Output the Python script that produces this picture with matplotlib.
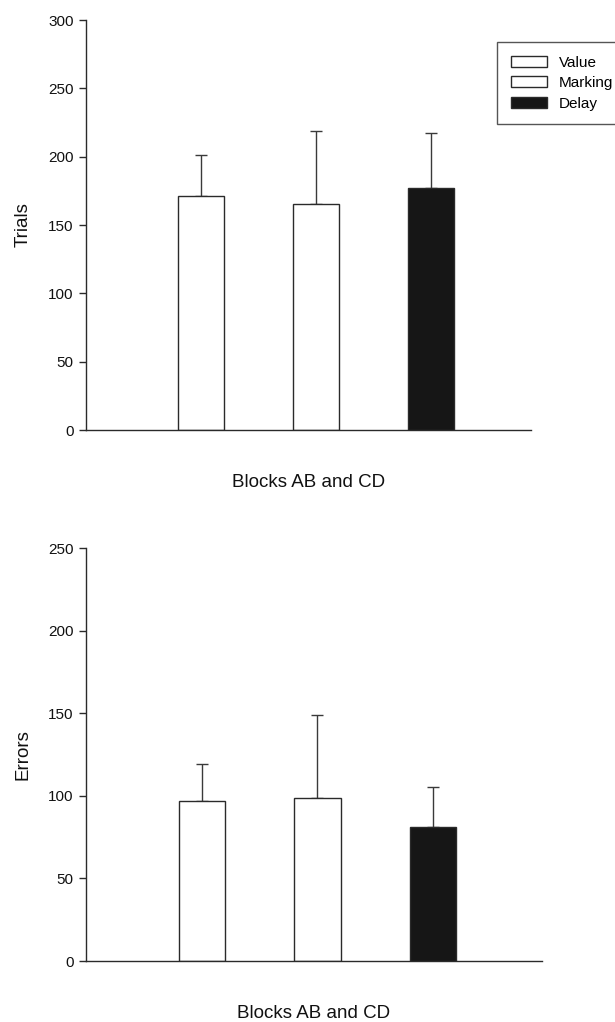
import matplotlib
matplotlib.use("Agg")
import matplotlib.pyplot as plt
from matplotlib.patches import Patch

plt.rcParams['font.family'] = ['Liberation Sans', 'DejaVu Sans']

groups = ["Value", "Marking", "Delay"]
colors = ["white", "white", "#161616"]
xlabel = "Blocks AB and CD"

trials_mean = [171, 165.5, 177]
trials_err = [30, 53, 40]
trials_ticks = [0, 50, 100, 150, 200, 250, 300]

errors_mean = [96.7, 98.7, 81]
errors_err = [22.5, 50, 24.5]
errors_ticks = [0, 50, 100, 150, 200, 250]

W, H = 615, 1022
fig = plt.figure(figsize=(W / 100, H / 100), dpi=100)

ax1 = fig.add_axes([86 / W, 1 - 430 / H, (531 - 86) / W, (430 - 20) / H])
ax2 = fig.add_axes([86 / W, 1 - 961 / H, (542 - 86) / W, (961 - 548) / H])

pos = [1, 2, 3]
ink = "#2a2a2a"

def draw(ax, means, errs, ticks, ylabel, xmax):
    ax.bar(pos, means, width=0.4, color=colors, edgecolor=ink,
           linewidth=1.0, zorder=2)
    ax.errorbar(pos, means, yerr=[[0, 0, 0], errs], fmt="none",
                ecolor="#3a3a3a", elinewidth=1.0, capsize=4.5, capthick=1.0,
                zorder=1)
    ax.set_xlim(0, xmax)
    ax.set_ylim(0, ticks[-1])
    ax.set_yticks(ticks)
    ax.set_xticks([])
    for s in ["top", "right"]:
        ax.spines[s].set_visible(False)
    for s in ["left", "bottom"]:
        ax.spines[s].set_linewidth(1.0)
        ax.spines[s].set_color(ink)
    ax.tick_params(axis="y", direction="out", length=5, width=1.0,
                   labelsize=11, colors=ink, labelcolor="#111111", pad=4)
    ax.set_ylabel(ylabel, fontsize=13.5, labelpad=12, color="#111111")
    ax.set_xlabel(xlabel, fontsize=13.5, labelpad=32, color="#111111")

draw(ax1, trials_mean, trials_err, trials_ticks, "Trials", 3.87)
draw(ax2, errors_mean, errors_err, errors_ticks, "Errors", 3.94)

handles = [Patch(facecolor=c, edgecolor=ink, linewidth=1.0) for c in colors]
leg = fig.legend(handles, groups, loc="upper left",
                 bbox_to_anchor=(497 / W, 1 - 42 / H),
                 bbox_transform=fig.transFigure, borderaxespad=0,
                 fontsize=11, frameon=True, fancybox=False,
                 handlelength=2.4, handleheight=0.7, handletextpad=0.75,
                 labelspacing=0.42, borderpad=0.9)
leg.get_frame().set_edgecolor(ink)
leg.get_frame().set_linewidth(1.0)

fig.savefig("out.png", dpi=100)
